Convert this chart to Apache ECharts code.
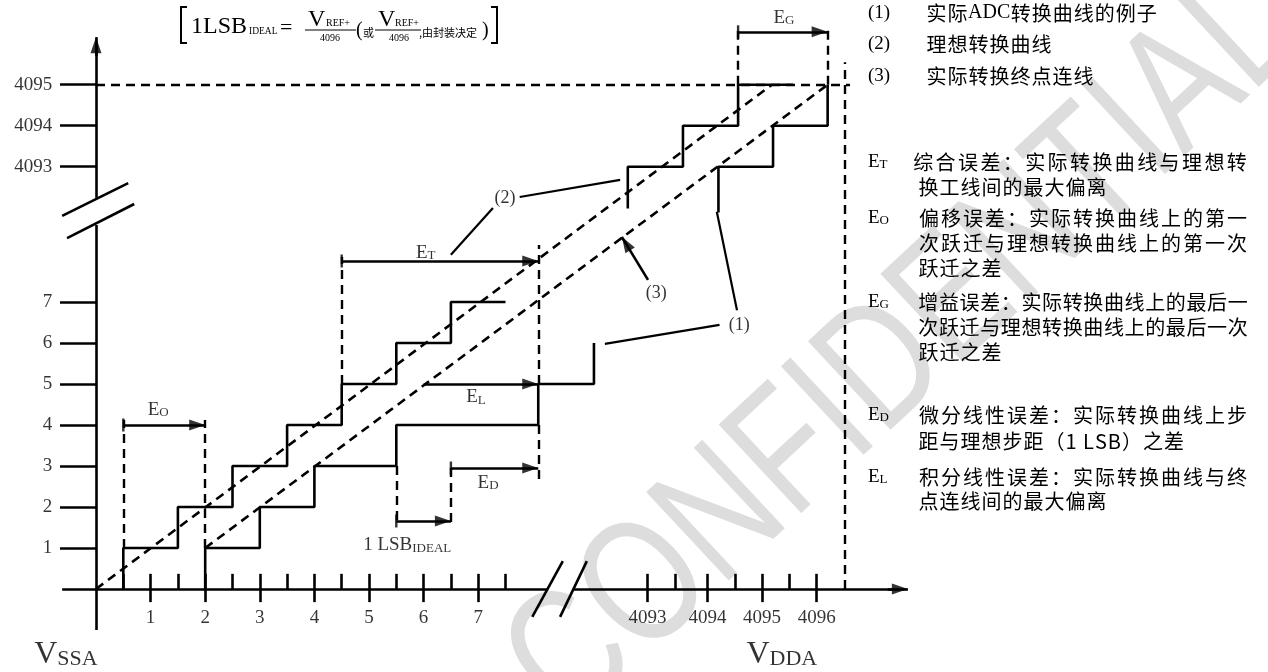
<!DOCTYPE html>
<html>
<head>
<meta charset="utf-8">
<script src="https://cdn.jsdelivr.net/npm/echarts@6/dist/echarts.min.js"></script>
<style>html,body{margin:0;padding:0;background:#fff}#main{width:1268px;height:672px}</style>
</head>
<body>
<div id="main"></div>
<script>
// units: x = input steps (LSB), y = output code; the part after the breaks just continues the scale
var stepsA = [[0.5,0],[0.5,1],[1.5,1],[1.5,2],[2.5,2],[2.5,3],[3.5,3],[3.5,4],[4.5,4],[4.5,5],[5.5,5],[5.5,6],[6.5,6],[6.5,7],[7.5,7]];
var stepsB = [[2,0],[2,1],[3,1],[3,2],[4,2],[4,3],[5.5,3],[5.5,4],[8.1,4],[8.1,5],[9.12,5],[9.12,6]];
var topStepsA = [[9.74,9.28],[9.74,10.3],[10.75,10.3],[10.75,11.3],[11.76,11.3],[11.76,12.3],[12.77,12.3]];
var topStepsB = [[11.4,9.18],[11.4,10.3],[12.4,10.3],[12.4,11.3],[13.4,11.3],[13.4,12.3]];
var idealLine = [[0,0],[12.38,12.3]];
var endpointLine = [[2,1],[13.4,12.3]];

var yTickPos = [1,2,3,4,5,6,7,10.3,11.3,12.3];
var yTickLabels = ['1','2','3','4','5','6','7','4093','4094','4095'];
var xTickPos = [1,2,3,4,5,6,7,10.1,11.2,12.2,13.2];
var xTickLabels = ['1','2','3','4','5','6','7','4093','4094','4095','4096'];
var xMinorPos = [0.5,1.5,2.5,3.5,4.5,5.5,6.5,7.5,10.6,11.7,12.7];

var axisSegs = [
  [[0,-1],[0,8.88]], [[0,9.54],[0,13.3]],
  [[-0.62,0],[8.28,0]], [[8.74,0],[14.7,0]],
  [[-0.62,9.1],[0.59,9.9]], [[-0.53,8.56],[0.7,9.39]],
  [[7.99,-0.68],[8.55,0.68]], [[8.5,-0.68],[8.99,0.68]]
];
var guides = [
  [[0,12.3],[13.81,12.3]], [[13.72,0],[13.72,12.85]],
  [[0.5,1],[0.5,4.12]], [[2,1],[2,4.12]],
  [[4.5,5],[4.5,8.1]], [[8.1,5],[8.1,8.39]], [[8.1,4],[8.1,2.66]],
  [[6.5,2.95],[6.5,1.56]], [[5.5,3],[5.5,1.56]],
  [[11.76,12.3],[11.76,13.76]], [[13.4,12.3],[13.4,13.76]]
];
var arrows = [
  {from:[0.5,4], to:[2,4], cap:true},
  {from:[4.5,8], to:[8.1,8], cap:true},
  {from:[6,5], to:[8.1,5], cap:false},
  {from:[6.5,2.95], to:[8.1,2.95], cap:true},
  {from:[5.5,1.66], to:[6.5,1.66], cap:true},
  {from:[11.76,13.59], to:[13.4,13.59], cap:true},
  {from:[10.11,7.54], to:[9.63,8.59], cap:false},
  {from:[0,13.0], to:[0,13.46], cap:false},
  {from:[14.5,0], to:[14.87,0], cap:false}
];
var leaders = [
  [[6.5,8.15],[7.27,9.29]], [[7.76,9.56],[9.6,9.98]],
  [[11.74,6.8],[11.37,9.2]], [[11.42,6.44],[9.32,5.98]]
];
var marks = [
  {text:'{e|E}{s|O}', at:[1.14,4.37]},
  {text:'{e|E}{s|T}', at:[6.04,8.2]},
  {text:'{e|E}{s|L}', at:[6.96,4.68]},
  {text:'{e|E}{s|D}', at:[7.18,2.59]},
  {text:'{e|1 LSB}{s|IDEAL}', at:[5.7,1.07]},
  {text:'{e|E}{s|G}', at:[12.6,13.93]},
  {text:'{p|(1)}', at:[11.78,6.44]},
  {text:'{p|(2)}', at:[7.49,9.54]},
  {text:'{p|(3)}', at:[10.26,7.22]},
  {text:'{v|V}{w|SSA}', at:[-0.55,-1.6]},
  {text:'{v|V}{w|DDA}', at:[12.56,-1.6]}
];
var legendRows = [
  ['(1)', ['实际', 'ADC', '转换曲线的例子']],
  ['(2)', ['理想转换曲线']],
  ['(3)', ['实际转换终点连线']]
];
var legendY = [13, 44, 76];
var notes = [
  {tag:'T', lines:['综合误差：实际转换曲线与理想转','换工线间的最大偏离'], y:[162,187]},
  {tag:'O', lines:['偏移误差：实际转换曲线上的第一','次跃迁与理想转换曲线上的第一次','跃迁之差'], y:[218,243,268]},
  {tag:'G', lines:['增益误差：实际转换曲线上的最后一','次跃迁与理想转换曲线上的最后一次','跃迁之差'], y:[302,327,352]},
  {tag:'D', lines:['微分线性误差：实际转换曲线上步','距与理想步距（1 LSB）之差'], y:[415,441]},
  {tag:'L', lines:['积分线性误差：实际转换曲线与终','点连线间的最大偏离'], y:[477,501]}
];

var W = 1268, H = 672, OX = 96, OY = 589, XS = 54.6, YS = 41;
var SERIF = 'Liberation Serif', CJK = 'Noto Sans CJK SC';

var chart = echarts.init(document.getElementById('main'));

function segs(list, width, dashed) {
  return {
    type: 'lines', coordinateSystem: 'cartesian2d', silent: true, z: 3,
    data: list.map(function (c) { return { coords: c }; }),
    lineStyle: { color: '#000', width: width, opacity: 1, type: dashed ? [9, 6] : 'solid', cap: 'butt' }
  };
}
function steps(pts, dashed) {
  return {
    type: 'line', data: pts, showSymbol: false, symbol: 'none', silent: true, z: 3,
    lineStyle: { color: '#000', width: 2.6, type: dashed ? [9, 6] : 'solid' }
  };
}

var ticks = [];
yTickPos.forEach(function (y) { ticks.push([[-0.66, y], [0, y]]); });
xTickPos.forEach(function (x) { ticks.push([[x, -0.32], [x, 0.37]]); });
xMinorPos.forEach(function (x) { ticks.push([[x, 0], [x, 0.37]]); });

var heads = arrows.map(function (a) {
  var th = Math.atan2((a.to[1] - a.from[1]) * YS, (a.to[0] - a.from[0]) * XS);
  var h = 16;
  return {
    value: a.to,
    symbolRotate: th * 180 / Math.PI - 90,
    symbolOffset: [-h / 2 * Math.cos(th), h / 2 * Math.sin(th)]
  };
});
var caps = arrows.filter(function (a) { return a.cap; }).map(function (a) { return a.from; });

var tickLabels = [];
yTickPos.forEach(function (y, i) { tickLabels.push({ value: [-0.8, y], text: yTickLabels[i], pos: 'left' }); });
xTickPos.forEach(function (x, i) { tickLabels.push({ value: [x, -0.7], text: xTickLabels[i], pos: 'inside' }); });

var rich = {
  e: { fontFamily: SERIF, fontSize: 19, lineHeight: 19, verticalAlign: 'bottom', color: '#000' },
  s: { fontFamily: SERIF, fontSize: 13, lineHeight: 13, verticalAlign: 'bottom', color: '#000' },
  p: { fontFamily: SERIF, fontSize: 18, lineHeight: 18, color: '#000' },
  v: { fontFamily: SERIF, fontSize: 32, lineHeight: 32, verticalAlign: 'bottom', color: '#000' },
  w: { fontFamily: SERIF, fontSize: 22, lineHeight: 22, verticalAlign: 'bottom', color: '#000' }
};

var series = [
  segs(axisSegs, 2.6, false),
  segs(ticks, 2.6, false),
  segs(guides, 2.4, true),
  segs(leaders, 2.2, false),
  segs(arrows.map(function (a) { return [a.from, a.to]; }), 2.6, false),
  steps(stepsA), steps(stepsB), steps(topStepsA), steps(topStepsB),
  steps(idealLine, true), steps(endpointLine, true),
  { type: 'scatter', silent: true, z: 4, symbol: 'triangle', symbolSize: [11, 16], itemStyle: { color: '#000' }, data: heads },
  { type: 'scatter', silent: true, z: 4, symbol: 'rect', symbolSize: [2.4, 13], itemStyle: { color: '#000' }, data: caps },
  {
    type: 'scatter', silent: true, z: 5, symbolSize: 0,
    data: tickLabels.map(function (t) {
      return { value: t.value, text: t.text, label: { position: t.pos, distance: 0 } };
    }),
    label: { show: true, formatter: function (p) { return p.data.text; }, fontFamily: SERIF, fontSize: 19, color: '#000' }
  },
  {
    type: 'scatter', silent: true, z: 5, symbolSize: 0,
    data: marks.map(function (m) { return { value: m.at, text: m.text }; }),
    label: { show: true, position: 'inside', formatter: function (p) { return p.data.text; }, rich: rich }
  }
];

// light diagonal watermark behind everything
var graphics = [{
  type: 'text', x: 905, y: 350, rotation: 0.75, scaleX: 0.78, z: 0, silent: true,
  style: { text: 'CONFIDENTIAL', font: '176px "Liberation Sans"', fill: '#dddddd', align: 'center', verticalAlign: 'middle' }
}];

function txt(x, y, text, size, family, align, extra) {
  var g = { type: 'text', x: x, y: y, z: 10, silent: true,
    style: { text: text, fontFamily: family, fontSize: size, fill: '#000', align: align || 'left', verticalAlign: 'middle' } };
  if (extra) g.style.rich = extra;
  return g;
}
function pline(pts, w) {
  return { type: 'polyline', z: 10, silent: true, shape: { points: pts }, style: { stroke: '#000', lineWidth: w, fill: null } };
}
// one rich token per character so the CJK lines can be spread like the original
function spread(str, key) {
  return str.split('').map(function (c) { return '{' + key + '|' + c + '}'; }).join('');
}

// formula in the top bracket
graphics.push(
  pline([[187, 7], [181, 7], [181, 43], [187, 43]], 2),
  txt(191, 27, '1LSB', 24, SERIF),
  txt(249, 31, 'IDEAL', 9.5, SERIF),
  txt(280, 28, '=', 22, SERIF),
  txt(308, 20, 'V', 24, SERIF), txt(326, 23, 'REF+', 10, SERIF), pline([[305, 30], [356, 30]], 1), txt(330, 38, '4096', 10, SERIF, 'center'),
  txt(356, 31, '(', 20, SERIF), txt(363, 33, '或', 11, CJK),
  txt(378, 20, 'V', 24, SERIF), txt(395, 23, 'REF+', 10, SERIF), pline([[375, 30], [421, 30]], 1), txt(399, 38, '4096', 10, SERIF, 'center'),
  txt(419, 33, ',由封装决定', 11, CJK), txt(482, 31, ')', 20, SERIF),
  pline([[491, 7], [497, 7], [497, 43], [491, 43]], 2)
);

var legendRich = {
  c: { fontFamily: CJK, fontSize: 20, padding: [0, 0.5, 0, 0.5] },
  r: { fontFamily: SERIF, fontSize: 20 }
};
legendRows.forEach(function (r, i) {
  graphics.push(txt(868, legendY[i], r[0], 19, SERIF));
  var t = r[1].map(function (part) {
    return part === 'ADC' ? '{r|ADC}' : spread(part, 'c');
  }).join('');
  graphics.push(txt(926, legendY[i], t, 20, CJK, 'left', legendRich));
});
var tagRich = {
  e: { fontFamily: SERIF, fontSize: 19, lineHeight: 19, verticalAlign: 'bottom' },
  s: { fontFamily: SERIF, fontSize: 13, lineHeight: 13, verticalAlign: 'bottom' }
};
var RIGHT_EDGE = 1248;
notes.forEach(function (n) {
  graphics.push(txt(868, n.y[0], '{e|E}{s|' + n.tag + '}', 19, SERIF, 'left', tagRich));
  n.lines.forEach(function (l, i) {
    var x0 = (i === 0 && n.tag === 'T') ? 912 : 918;
    var last = i === n.lines.length - 1;
    var pitch = last ? 21 : (RIGHT_EDGE - x0) / l.length;
    var pad = Math.max(0, (pitch - 20) / 2);
    var r = { k: { fontFamily: CJK, fontSize: 20, padding: [0, pad, 0, pad] } };
    graphics.push(txt(x0, n.y[i], spread(l, 'k'), 20, CJK, 'left', r));
  });
});

chart.setOption({
  animation: false,
  backgroundColor: '#fff',
  grid: { left: 0, top: 0, width: W, height: H },
  xAxis: { type: 'value', min: -OX / XS, max: (W - OX) / XS, show: false },
  yAxis: { type: 'value', min: -(H - OY) / YS, max: OY / YS, show: false },
  graphic: graphics,
  series: series
});
</script>
</body>
</html>
